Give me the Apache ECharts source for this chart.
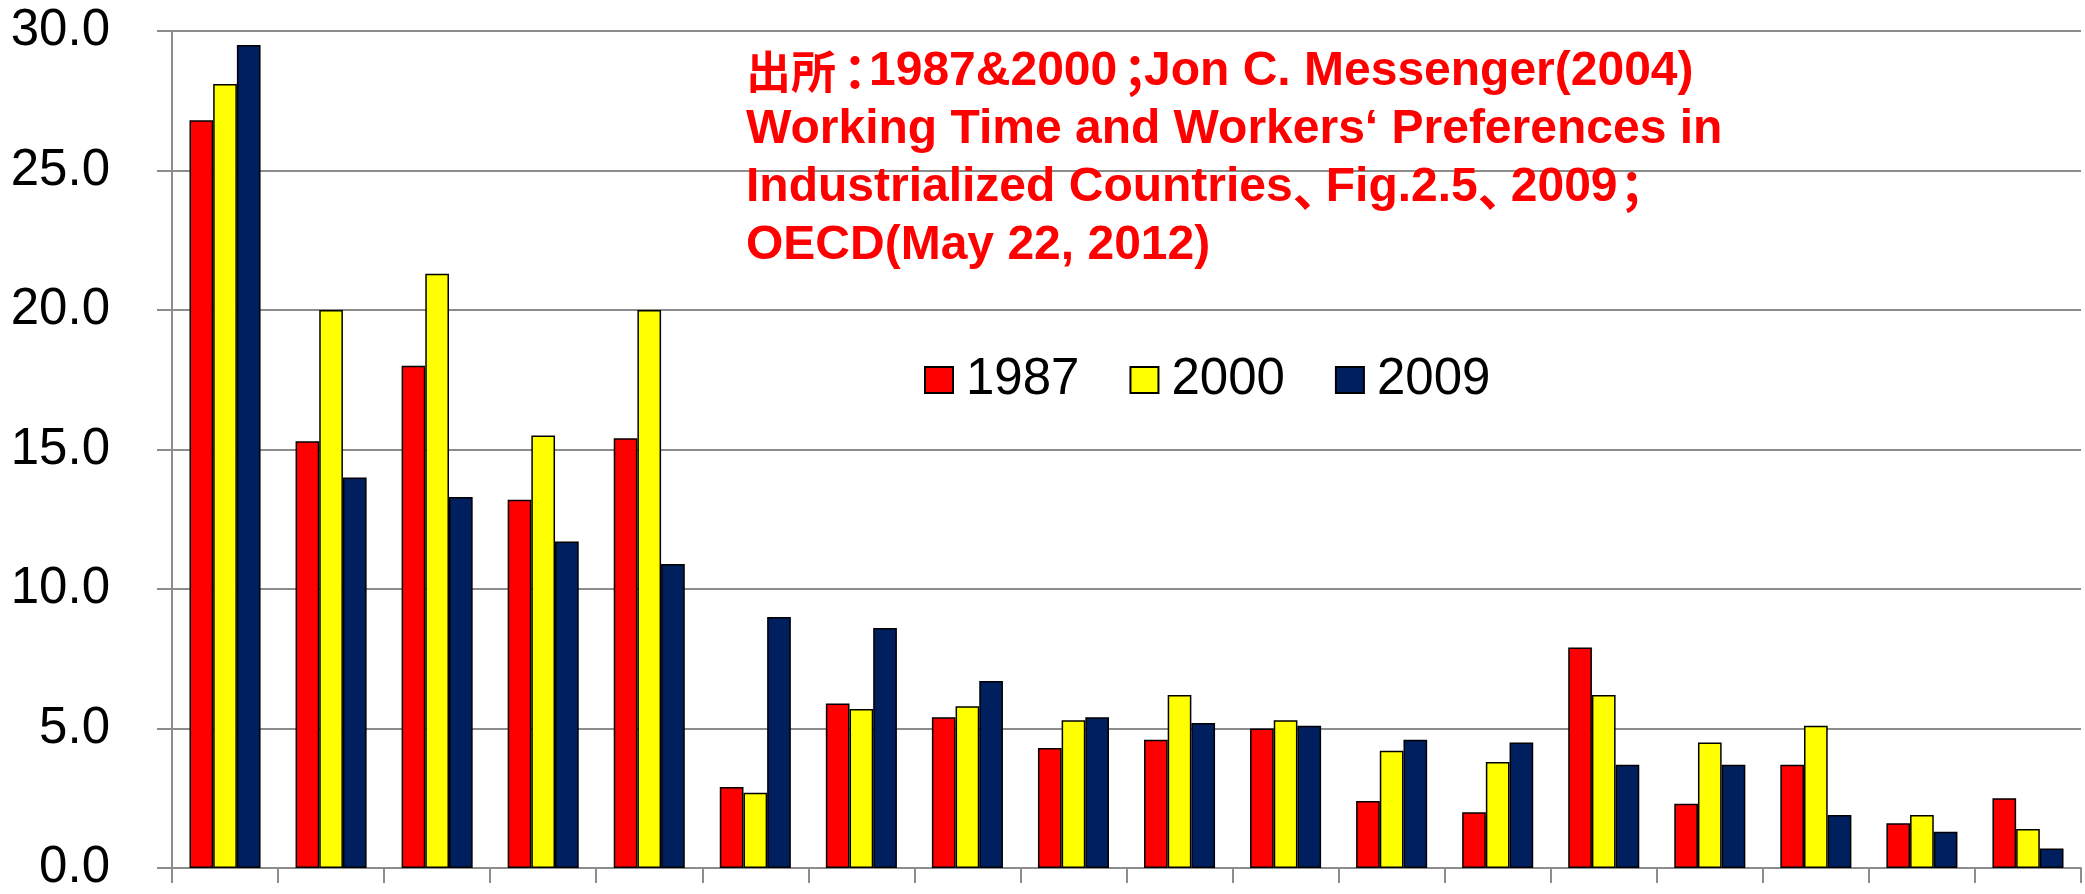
<!DOCTYPE html>
<html>
<head>
<meta charset="utf-8">
<script src="https://cdn.jsdelivr.net/npm/echarts@6/dist/echarts.min.js"></script>
<style>
html,body{margin:0;padding:0;background:#fff;}
#chart{width:2085px;height:894px;}
</style>
</head>
<body>
<div id="chart"></div>
<script>
// Categories (labels not shown in the reference)
const categories = ['1','2','3','4','5','6','7','8','9','10','11','12','13','14','15','16','17','18'];
const seriesNames = ['1987', '2000', '2009'];
const values1987 = [26.8, 15.3, 18.0, 13.2, 15.4, 2.9, 5.9, 5.4, 4.3, 4.6, 5.0, 2.4, 2.0, 7.9, 2.3, 3.7, 1.6, 2.5];
const values2000 = [28.1, 20.0, 21.3, 15.5, 20.0, 2.7, 5.7, 5.8, 5.3, 6.2, 5.3, 4.2, 3.8, 6.2, 4.5, 5.1, 1.9, 1.4];
const values2009 = [29.5, 14.0, 13.3, 11.7, 10.9, 9.0, 8.6, 6.7, 5.4, 5.2, 5.1, 4.6, 4.5, 3.7, 3.7, 1.9, 1.3, 0.7];
const colors = ['#FF0000', '#FFFF00', '#001F5F'];
// Source note: 出所：1987&2000；Jon C. Messenger(2004) Working Time and Workers‘ Preferences in Industrialized Countries、Fig.2.5、2009；OECD(May 22, 2012)
const noteLines = [
  '{cj|出所}{colon|：}{n1|1987&2000}{semi|；}Jon C. Messenger(2004)',
  'Working Time and Workers‘ Preferences in',
  'Industrialized Countries{comma|、}Fig.2.5{comma|、}{n2|2009}{semi|；}',
  'OECD(May 22, 2012)'
];

const chart = echarts.init(document.getElementById('chart'));
const font = "'Liberation Sans', Arial, 'Noto Sans CJK JP', sans-serif";
const cjkFont = "'Noto Sans CJK JP', 'Noto Sans CJK SC', sans-serif";
const gridColor = '#8c8c8c';

function mkSeries(name, data, color) {
  return {
    name: name,
    type: 'bar',
    data: data,
    barGap: '0%',
    barCategoryGap: '33%',
    itemStyle: { color: color, borderColor: '#000', borderWidth: 1.5 },
    emphasis: { disabled: true },
    animation: false
  };
}

const red = '#FF0000';
function tok(extra) {
  return Object.assign({ fill: red, fontWeight: 'bold', lineHeight: 58 }, extra);
}

chart.setOption({
  animation: false,
  backgroundColor: '#fff',
  grid: { left: 172, right: 4, top: 31, bottom: 26, containLabel: false },
  legend: {
    data: seriesNames,
    left: 919,
    top: 349,
    itemWidth: 28,
    itemHeight: 26,
    itemGap: 50,
    icon: 'rect',
    textStyle: { fontFamily: font, fontSize: 51, color: '#000', lineHeight: 52, padding: [0, 0, 0, 8] }
  },
  xAxis: {
    type: 'category',
    data: categories,
    axisLine: { show: true, lineStyle: { color: gridColor, width: 2 } },
    axisTick: { show: true, length: 15, lineStyle: { color: gridColor, width: 2 } },
    axisLabel: { show: false },
    splitLine: { show: false }
  },
  yAxis: {
    type: 'value',
    min: 0,
    max: 30,
    interval: 5,
    axisLine: { show: true, lineStyle: { color: gridColor, width: 2 } },
    axisTick: { show: true, length: 15, lineStyle: { color: gridColor, width: 2 } },
    axisLabel: {
      margin: 62,
      fontFamily: font,
      fontSize: 51,
      color: '#000',
      formatter: v => v.toFixed(1)
    },
    splitLine: { show: true, lineStyle: { color: gridColor, width: 2 } }
  },
  series: [
    mkSeries(seriesNames[0], values1987, colors[0]),
    mkSeries(seriesNames[1], values2000, colors[1]),
    mkSeries(seriesNames[2], values2009, colors[2])
  ],
  graphic: [{
    type: 'text',
    left: 746,
    top: 43,
    z: 100,
    style: {
      text: noteLines.join('\n'),
      fill: red,
      fontFamily: font,
      fontWeight: 'bold',
      fontSize: 48,
      lineHeight: 58,
      rich: {
        cj: tok({ fontFamily: cjkFont, fontSize: 45, width: 85 }),
        colon: tok({ fontFamily: cjkFont, fontSize: 48, width: 38 }),
        n1: tok({ fontFamily: font, fontSize: 48, width: 242 }),
        n2: tok({ fontFamily: font, fontSize: 48, width: 97 }),
        semi: tok({ fontFamily: cjkFont, fontSize: 48, width: 33 }),
        comma: tok({ fontFamily: cjkFont, fontSize: 48, width: 33 })
      }
    }
  }]
});
</script>
</body>
</html>
